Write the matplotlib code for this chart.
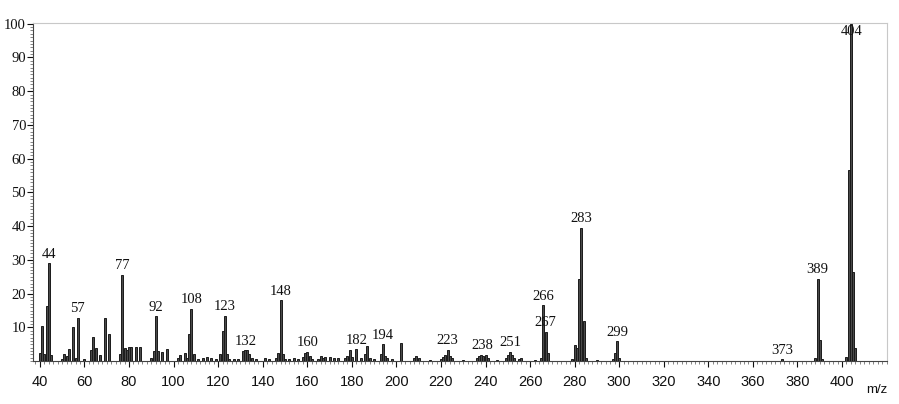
import matplotlib
matplotlib.use("Agg")
import matplotlib.pyplot as plt
from matplotlib.ticker import MultipleLocator

# m/z values and relative intensities (%)
mz = [40, 41, 42, 43, 44, 45, 50, 51, 52, 53, 55, 56, 57, 60,
      63, 64, 65, 67, 69, 71, 76, 77, 78, 79, 80, 81, 83, 85,
      90, 91, 92, 93, 95, 97, 102, 103, 105, 106, 107, 108, 109,
      111, 113, 115, 117, 119, 121, 122, 123, 124, 125, 127, 129,
      131, 132, 133, 134, 135, 137, 141, 143, 146, 147, 148, 149, 150,
      152, 154, 156, 158, 159, 160, 161, 162, 165, 166, 167, 168, 170,
      172, 174, 177, 178, 179, 180, 182, 184, 186, 187, 188, 190,
      193, 194, 195, 196, 198, 202, 208, 209, 210, 215, 220, 221,
      222, 223, 224, 225, 230, 236, 237, 238, 239, 240, 241, 245,
      249, 250, 251, 252, 253, 255, 256, 262, 265, 266, 267, 268,
      279, 280, 281, 282, 283, 284, 285, 290, 297, 298, 299, 300,
      373, 388, 389, 390, 391, 402, 403, 404, 405, 406]
intensity = [2.5, 10.5, 2.0, 16.2, 29.0, 1.8, 0.5, 2.0, 1.5, 3.5, 10.0, 1.0, 12.8, 0.5,
             3.3, 7.3, 4.0, 1.8, 12.8, 8.0, 2.0, 25.5, 4.0, 3.2, 4.3, 4.3, 4.3, 4.3,
             0.8, 3.0, 13.3, 3.0, 2.7, 3.6, 0.8, 1.8, 2.5, 1.0, 8.0, 15.5, 2.2,
             0.6, 0.8, 1.2, 0.8, 0.5, 2.0, 9.0, 13.5, 2.0, 0.6, 0.5, 0.6,
             3.0, 3.2, 3.2, 2.2, 1.0, 0.6, 1.0, 0.6, 1.0, 2.5, 18.0, 2.0, 0.5,
             0.6, 1.0, 0.6, 1.2, 2.4, 2.8, 1.5, 0.6, 0.6, 1.5, 1.0, 1.2, 1.2,
             1.0, 1.0, 1.0, 1.5, 3.3, 1.2, 3.5, 1.0, 2.0, 4.6, 1.0, 0.6,
             2.0, 5.0, 1.5, 1.0, 0.6, 5.5, 0.8, 1.5, 1.0, 0.4, 0.6, 1.2,
             1.8, 3.3, 1.5, 0.8, 0.4, 0.8, 1.5, 1.8, 1.5, 1.8, 1.0, 0.4,
             0.8, 1.8, 2.8, 1.8, 1.0, 0.6, 0.8, 0.4, 1.0, 16.5, 8.6, 2.5,
             0.5, 4.7, 4.0, 24.3, 39.5, 11.8, 1.0, 0.3, 0.5, 2.5, 5.9, 0.8,
             0.5, 0.8, 24.3, 6.4, 0.5, 1.2, 56.6, 100.0, 26.5, 4.0]

# annotated peaks: label, x (m/z), y (intensity for label base)
label_text = ["44", "57", "77", "92", "108", "123", "132", "148", "160", "182",
              "194", "223", "238", "251", "266", "267", "283", "299", "373", "389"]
label_x = [44, 57, 77, 92, 108, 123, 132.5, 148, 160, 182,
           194, 223, 238.5, 251, 266, 267, 283, 299, 373, 389]
label_y = [29.0, 12.8, 25.5, 13.3, 15.5, 13.5, 3.2, 18.0, 2.8, 3.5,
           5.0, 3.3, 1.8, 2.8, 16.5, 8.6, 39.5, 5.9, 0.5, 24.3]

xticks = [40, 60, 80, 100, 120, 140, 160, 180, 200, 220, 240, 260,
          280, 300, 320, 340, 360, 380, 400]
yticks = [10, 20, 30, 40, 50, 60, 70, 80, 90, 100]

serif = "Liberation Serif"
sans = "Liberation Sans"
ink = "#111111"

fig = plt.figure(figsize=(8.99, 4.04), dpi=100)
ax = fig.add_axes([0.0367, 0.106, 0.950, 0.838])

ax.bar(mz, intensity, width=0.9, color="#4a4a4a", edgecolor="#1a1a1a",
       linewidth=0.7, zorder=3)

for t, x, y in zip(label_text, label_x, label_y):
    ax.text(x, y + 0.8, t, ha="center", va="bottom", fontsize=10.5,
            family=serif, color=ink, zorder=4)
ax.text(404.5, 99.5, "404", ha="center", va="top", fontsize=10.5,
        family=serif, color=ink, zorder=4)

ax.set_xlim(36.9, 420.2)
ax.set_ylim(0, 100.3)
ax.set_xticks(xticks)
ax.set_yticks(yticks)
ax.xaxis.set_minor_locator(MultipleLocator(2))
ax.yaxis.set_minor_locator(MultipleLocator(1))
ax.tick_params(axis="y", which="major", length=4, width=0.8, pad=1,
               labelsize=10.5, colors=ink)
ax.tick_params(axis="y", which="minor", length=2, width=0.5, colors="#555555")
ax.tick_params(axis="x", which="major", length=4, width=0.8, pad=6,
               labelsize=10.5, colors=ink)
ax.tick_params(axis="x", which="minor", length=2, width=0.5, colors="#555555")
for lab in ax.get_yticklabels():
    lab.set_family(serif)
for lab in ax.get_xticklabels():
    lab.set_family(sans)

ax.spines["left"].set_color("#444444")
ax.spines["bottom"].set_color("#444444")
ax.spines["top"].set_color("#c8c8c8")
ax.spines["right"].set_color("#c8c8c8")
for s in ax.spines.values():
    s.set_linewidth(0.8)

fig.text(877 / 899, 1 - 390 / 404, "m/z", ha="center", va="center",
         fontsize=9.5, family=sans, color=ink)

fig.savefig("out.png", dpi=100)
